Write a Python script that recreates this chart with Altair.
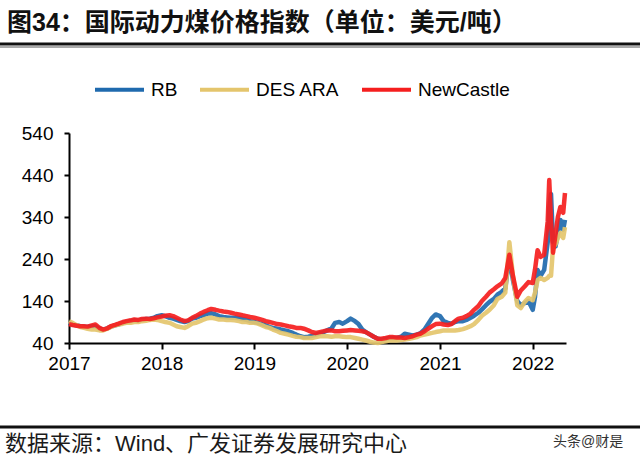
import altair as alt
import pandas as pd

series_names = ["RB", "DES ARA", "NewCastle"]
series_colors = ["#1F6AAE", "#E4C56C", "#F51E1E"]

# semi-monthly dates 2017-01 .. 2021-12, then irregular 2022 dates
dates_main = [f"{y}-{m:02d}-{d:02d}" for y in range(2017, 2022) for m in range(1, 13) for d in (1, 15)]
dates_2022 = ["2022-01-01", "2022-01-10", "2022-01-20", "2022-02-01", "2022-02-15", "2022-03-01",
              "2022-03-07", "2022-03-14", "2022-03-22", "2022-04-01", "2022-04-10", "2022-04-20",
              "2022-05-01", "2022-05-08"]
dates = dates_main + dates_2022

rb = (
    [88, 84, 82, 80, 79, 78, 80, 80, 74, 72, 75, 79, 82, 84, 88, 90, 92, 94, 93, 95, 97, 98, 100, 104]
    + [106, 104, 100, 98, 95, 92, 90, 92, 98, 100, 104, 106, 110, 111, 108, 104, 102, 101, 100, 100, 99, 97, 95, 92]
    + [90, 88, 85, 82, 78, 76, 74, 72, 70, 68, 64, 60, 56, 54, 55, 57, 60, 63, 66, 70, 75, 88, 90, 86]
    + [92, 98, 92, 85, 72, 66, 60, 55, 50, 48, 50, 52, 52, 52, 55, 62, 60, 58, 60, 63, 72, 85, 100, 108]
    + [104, 92, 88, 86, 90, 92, 92, 95, 100, 105, 112, 120, 130, 138, 145, 155, 162, 170, 245, 190, 140, 130, 135, 140]
    + [119, 150, 214, 200, 214, 280, 360, 395, 280, 270, 300, 333, 310, 333]
)
des_ara = (
    [92, 88, 82, 78, 76, 74, 72, 72, 70, 70, 74, 78, 82, 84, 86, 88, 88, 90, 90, 92, 93, 95, 96, 95]
    + [92, 90, 88, 84, 80, 78, 76, 80, 86, 88, 92, 96, 99, 100, 98, 96, 96, 95, 95, 94, 92, 90, 90, 88]
    + [88, 86, 82, 78, 76, 72, 68, 64, 62, 60, 57, 55, 54, 52, 52, 52, 54, 56, 56, 56, 55, 56, 56, 55]
    + [54, 54, 52, 50, 48, 46, 43, 41, 40, 42, 44, 46, 46, 46, 47, 48, 50, 52, 54, 58, 60, 62, 64, 66]
    + [68, 70, 70, 70, 70, 71, 73, 76, 80, 85, 95, 105, 112, 119, 130, 145, 150, 160, 280, 200, 130, 123, 138, 147]
    + [142, 160, 190, 195, 190, 195, 200, 200, 268, 275, 290, 302, 290, 316]
)
newcastle = (
    [85, 83, 81, 80, 80, 79, 82, 84, 76, 72, 75, 80, 83, 86, 90, 92, 94, 96, 95, 97, 98, 97, 99, 101]
    + [103, 105, 106, 104, 100, 96, 92, 94, 100, 104, 110, 114, 118, 121, 119, 117, 115, 114, 112, 110, 108, 106, 104, 102]
    + [100, 98, 95, 92, 90, 88, 85, 84, 82, 80, 78, 76, 76, 74, 70, 66, 64, 66, 68, 70, 70, 68, 68, 69]
    + [70, 71, 70, 69, 68, 66, 60, 55, 50, 50, 52, 54, 54, 53, 53, 52, 54, 56, 60, 62, 68, 74, 80, 85]
    + [86, 84, 83, 85, 92, 98, 100, 104, 110, 119, 128, 140, 150, 160, 168, 175, 182, 195, 250, 200, 150, 165, 175, 185]
    + [183, 215, 261, 245, 250, 330, 428, 330, 255, 300, 340, 364, 350, 397]
)

y_ticks = [40, 140, 240, 340, 440, 540]
x_years = [2017, 2018, 2019, 2020, 2021, 2022]

title_text = "图34：国际动力煤价格指数（单位：美元/吨）"
source_text = "数据来源：Wind、广发证券发展研究中心"
mark_text_str = "头条@财是"

rows = []
for name, vals in zip(series_names, [rb, des_ara, newcastle]):
    for d, v in zip(dates, vals):
        rows.append({"date": d, "value": v, "series": name})
df = pd.DataFrame(rows)

FONT = "Liberation Sans, Arial, Noto Sans CJK SC"
W, H = 497, 210
LEFT, TOP = 69, 133

x_enc = alt.X(
    "date:T",
    scale=alt.Scale(type="utc", domain=[alt.DateTime(year=2017, month=1, date=1, utc=True),
                                        alt.DateTime(year=2022, month=5, date=12, utc=True)]),
    axis=alt.Axis(
        values=[alt.DateTime(year=y, month=1, date=1, utc=True) for y in x_years],
        format="%Y", formatType="utc", title=None, grid=False,
        domainColor="black", domainWidth=2, tickColor="black", tickWidth=2, tickSize=6,
        labelFontSize=19, labelColor="black", labelFont=FONT, labelPadding=5,
        labelFlush=False, labelOverlap=False,
    ),
)
y_enc = alt.Y(
    "value:Q",
    scale=alt.Scale(domain=[40, 540], nice=False, zero=False),
    axis=alt.Axis(
        values=y_ticks, title=None, grid=False,
        domainColor="black", domainWidth=2, tickColor="black", tickWidth=2, tickSize=5,
        labelFontSize=19, labelColor="black", labelFont=FONT, labelPadding=11,
    ),
)
color_enc = alt.Color(
    "series:N",
    scale=alt.Scale(domain=series_names, range=series_colors),
    legend=alt.Legend(
        orient="none", legendX=24, legendY=-70, direction="horizontal", title=None,
        symbolType="stroke", symbolStrokeWidth=4, symbolSize=2401,
        labelFontSize=19, labelFont=FONT, labelColor="black", labelOffset=5,
        columnPadding=14, symbolOpacity=1,
    ),
)

base = alt.Chart(df)
line_layers = [
    base.transform_filter(alt.datum.series == s)
    .mark_line(strokeWidth=4.5, opacity=0.92, strokeJoin="round")
    .encode(x=x_enc, y=y_enc, color=color_enc)
    for s in series_names
]

one = pd.DataFrame({"t": [title_text]})
title_layer = alt.Chart(one).mark_text(
    align="left", baseline="alphabetic", fontSize=25, fontWeight="bold", font=FONT, color="#111111"
).encode(x=alt.value(7 - LEFT), y=alt.value(31 - TOP), text="t:N")

src = pd.DataFrame({"t": [source_text]})
source_layer = alt.Chart(src).mark_text(
    align="left", baseline="alphabetic", fontSize=22, font=FONT, color="#1a1a1a"
).encode(x=alt.value(5 - LEFT), y=alt.value(451 - TOP), text="t:N")

wm = pd.DataFrame({"t": [mark_text_str]})
wm_layer = alt.Chart(wm).mark_text(
    align="left", baseline="alphabetic", fontSize=14, font=FONT, color="#333333"
).encode(x=alt.value(553 - LEFT), y=alt.value(446 - TOP), text="t:N")

rule_df = pd.DataFrame({"k": [1]})
top_rule = alt.Chart(rule_df).mark_rule(color="#111111", strokeWidth=3).encode(
    x=alt.value(-LEFT), x2=alt.value(640 - LEFT), y=alt.value(44 - TOP))
top_rule2 = alt.Chart(rule_df).mark_rule(color="#555555", strokeWidth=1).encode(
    x=alt.value(-LEFT), x2=alt.value(640 - LEFT), y=alt.value(47 - TOP))
bot_rule = alt.Chart(rule_df).mark_rule(color="#111111", strokeWidth=3).encode(
    x=alt.value(-LEFT), x2=alt.value(640 - LEFT), y=alt.value(427 - TOP))

chart = alt.layer(
    *line_layers, title_layer, source_layer, wm_layer, top_rule, top_rule2, bot_rule
).properties(
    width=W, height=H,
    autosize=alt.AutoSizeParams(type="none"),
    padding={"left": LEFT, "top": TOP, "right": 640 - LEFT - W, "bottom": 463 - TOP - H},
    background="white",
).configure_view(stroke=None)

chart.save("out.html", embed_options={"renderer": "svg", "actions": False})
